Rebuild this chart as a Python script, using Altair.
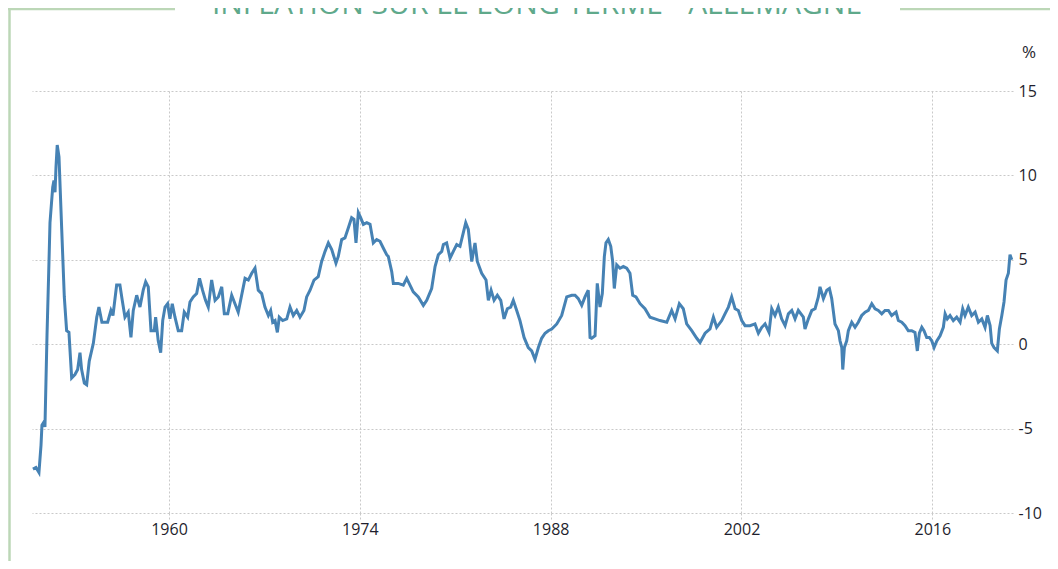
import altair as alt
import pandas as pd

# Decimal years and inflation (%)
years = [
    1950.02, 1950.24, 1950.46, 1950.61, 1950.68, 1950.83, 1950.90, 1950.98, 1951.05, 1951.20,
    1951.27, 1951.47, 1951.56, 1951.64, 1951.71, 1951.80, 1951.93, 1952.13, 1952.32, 1952.49,
    1952.66, 1952.86, 1953.10, 1953.30, 1953.47, 1953.59, 1953.79, 1953.96, 1954.15, 1954.45,
    1954.70, 1954.86, 1955.08, 1955.50, 1955.74, 1955.89, 1956.16, 1956.40, 1956.57, 1956.77,
    1957.01, 1957.21, 1957.38, 1957.63, 1957.87, 1958.11, 1958.29, 1958.48, 1958.68, 1958.92,
    1959.02, 1959.21, 1959.39, 1959.54, 1959.71, 1959.90, 1960.07, 1960.24, 1960.44, 1960.68,
    1960.93, 1961.12, 1961.37, 1961.54, 1961.78, 1962.03, 1962.24, 1962.46, 1962.68, 1962.88,
    1963.13, 1963.38, 1963.62, 1963.87, 1964.06, 1964.31, 1964.60, 1964.84, 1965.08, 1965.33,
    1965.58, 1965.82, 1966.07, 1966.31, 1966.55, 1966.80, 1967.04, 1967.29, 1967.46, 1967.61,
    1967.78, 1967.95, 1968.09, 1968.34, 1968.64, 1968.88, 1969.12, 1969.37, 1969.61, 1969.90,
    1970.10, 1970.35, 1970.64, 1970.95, 1971.20, 1971.45, 1971.69, 1971.94, 1972.25, 1972.42,
    1972.67, 1972.91, 1973.16, 1973.40, 1973.57, 1973.72, 1973.89, 1974.06, 1974.26, 1974.51,
    1974.75, 1974.99, 1975.24, 1975.48, 1975.72, 1975.97, 1976.09, 1976.34, 1976.46, 1976.82,
    1977.19, 1977.44, 1977.68, 1977.92, 1978.29, 1978.66, 1978.91, 1979.27, 1979.52, 1979.76,
    1980.01, 1980.13, 1980.37, 1980.62, 1980.86, 1981.11, 1981.35, 1981.59, 1981.77, 1981.96,
    1982.21, 1982.45, 1982.62, 1982.94, 1983.26, 1983.43, 1983.63, 1983.85, 1984.09, 1984.34,
    1984.58, 1984.82, 1985.07, 1985.26, 1985.51, 1985.75, 1986.05, 1986.36, 1986.61, 1986.85,
    1987.10, 1987.34, 1987.59, 1987.83, 1988.08, 1988.45, 1988.81, 1989.18, 1989.55, 1989.79,
    1990.03, 1990.28, 1990.52, 1990.76, 1990.89, 1991.01, 1991.26, 1991.42, 1991.62, 1991.79,
    1991.94, 1992.06, 1992.23, 1992.41, 1992.55, 1992.67, 1992.85, 1993.09, 1993.33, 1993.58,
    1993.82, 1994.02, 1994.26, 1994.56, 1994.92, 1995.29, 1995.66, 1996.02, 1996.52, 1996.88,
    1997.13, 1997.44, 1997.73, 1997.98, 1998.35, 1998.72, 1998.96, 1999.33, 1999.69, 1999.94,
    2000.18, 2000.55, 2000.79, 2001.04, 2001.28, 2001.53, 2001.77, 2002.02, 2002.26, 2002.63,
    2002.99, 2003.24, 2003.49, 2003.73, 2004.02, 2004.22, 2004.46, 2004.70, 2004.95, 2005.20,
    2005.44, 2005.69, 2005.93, 2006.17, 2006.54, 2006.66, 2006.91, 2007.16, 2007.40, 2007.64,
    2007.76, 2008.01, 2008.26, 2008.45, 2008.62, 2008.86, 2009.11, 2009.23, 2009.36, 2009.43,
    2009.55, 2009.72, 2009.84, 2010.09, 2010.33, 2010.57, 2010.82, 2011.07, 2011.31, 2011.56,
    2011.80, 2012.04, 2012.29, 2012.53, 2012.78, 2013.02, 2013.34, 2013.51, 2013.76, 2014.00,
    2014.24, 2014.49, 2014.73, 2014.90, 2015.05, 2015.23, 2015.39, 2015.59, 2015.78, 2015.96,
    2016.13, 2016.33, 2016.57, 2016.81, 2016.94, 2017.10, 2017.30, 2017.54, 2017.79, 2018.04,
    2018.23, 2018.40, 2018.64, 2018.89, 2019.14, 2019.38, 2019.63, 2019.87, 2020.04, 2020.24,
    2020.36, 2020.53, 2020.77, 2020.92, 2021.10, 2021.26, 2021.41, 2021.58, 2021.70, 2021.83,
]
values = [
    -7.4, -7.3, -7.6, -6.0, -4.8, -4.6, -4.9, -2.0, 0.5, 5.0,
    7.2, 9.3, 9.7, 9.0, 10.5, 11.8, 11.1, 6.8, 2.8, 0.8,
    0.7, -2.0, -1.8, -1.5, -0.5, -1.5, -2.3, -2.4, -1.0, 0.05,
    1.6, 2.2, 1.3, 1.3, 2.0, 1.7, 3.5, 3.5, 2.6, 1.6,
    1.9, 0.4, 2.0, 2.9, 2.2, 3.2, 3.7, 3.4, 0.8, 0.8,
    1.6, 0.2, -0.5, 1.4, 2.2, 2.4, 1.5, 2.4, 1.6, 0.8,
    0.8, 1.9, 1.6, 2.5, 2.8, 3.0, 3.9, 3.2, 2.6, 2.2,
    3.8, 2.6, 2.8, 3.4, 1.8, 1.8, 2.9, 2.4, 1.9, 2.9,
    3.9, 3.8, 4.2, 4.5, 3.2, 3.0, 2.2, 1.7, 2.0, 1.3,
    1.4, 0.7, 1.6, 1.4, 1.5, 2.2, 1.7, 2.0, 1.6, 2.0,
    2.8, 3.2, 3.8, 4.0, 4.9, 5.5, 6.0, 5.6, 4.8, 5.2,
    6.2, 6.3, 6.9, 7.5, 7.4, 6.0, 7.8, 7.5, 7.1, 7.2,
    7.1, 6.0, 6.2, 6.1, 5.7, 5.3, 5.2, 4.3, 3.6, 3.6,
    3.5, 3.9, 3.5, 3.1, 2.8, 2.3, 2.6, 3.3, 4.6, 5.3,
    5.5, 5.9, 6.0, 5.1, 5.5, 5.9, 5.8, 6.6, 7.2, 6.8,
    4.9, 6.0, 4.9, 4.2, 3.8, 2.6, 3.2, 2.6, 2.9, 2.6,
    1.5, 2.1, 2.2, 2.6, 2.0, 1.4, 0.4, -0.2, -0.4, -0.9,
    -0.2, 0.35, 0.65, 0.8, 0.9, 1.2, 1.7, 2.8, 2.9, 2.9,
    2.7, 2.3, 2.8, 3.2, 0.4, 0.35, 0.5, 3.6, 2.2, 3.0,
    5.2, 6.0, 6.2, 5.8, 4.9, 3.3, 4.7, 4.5, 4.6, 4.5,
    4.2, 2.9, 2.8, 2.4, 2.1, 1.6, 1.5, 1.4, 1.3, 2.0,
    1.5, 2.4, 2.1, 1.2, 0.8, 0.35, 0.1, 0.65, 0.9, 1.6,
    1.0, 1.4, 1.8, 2.2, 2.8, 2.1, 2.0, 1.4, 1.1, 1.1,
    1.2, 0.65, 1.0, 1.2, 0.7, 2.1, 1.7, 2.2, 1.5, 1.1,
    1.8, 2.0, 1.5, 2.0, 1.6, 0.9, 1.5, 2.0, 2.1, 2.8,
    3.4, 2.7, 3.2, 3.3, 2.7, 1.2, 0.8, 0.2, -0.2, -1.5,
    -0.2, 0.2, 0.8, 1.3, 1.0, 1.3, 1.7, 1.9, 2.0, 2.4,
    2.1, 2.0, 1.8, 2.0, 2.0, 1.7, 1.9, 1.4, 1.3, 1.1,
    0.8, 0.8, 0.7, -0.4, 0.65, 1.0, 0.8, 0.4, 0.4, 0.2,
    -0.2, 0.2, 0.5, 1.0, 1.8, 1.5, 1.7, 1.4, 1.6, 1.3,
    2.1, 1.7, 2.2, 1.7, 1.9, 1.3, 1.5, 1.0, 1.7, 1.1,
    0.05, -0.2, -0.4, 0.9, 1.7, 2.5, 3.8, 4.2, 5.3, 5.0,
]

x_ticks = [1960, 1974, 1988, 2002, 2016]
y_ticks = [-10, -5, 0, 5, 10, 15]
title_text = "INFLATION SUR LE LONG TERME - ALLEMAGNE"
unit_text = "%"

FONT = "Open Sans"
GRID = "#c9c9c9"
LABEL = "#1f1f2e"
FRAME = "#bcd7b7"

df = pd.DataFrame({"year": years, "value": values})

line = alt.Chart(df).mark_line(color="#4682b4", strokeWidth=3).encode(
    x=alt.X(
        "year:Q",
        scale=alt.Scale(domain=[1949.95, 2021.92], nice=False, zero=False),
        axis=alt.Axis(
            values=x_ticks, labelExpr="'' + datum.value", title=None, grid=True,
            gridDash=[2, 2], gridColor=GRID, gridWidth=1,
            domain=False, ticks=True, tickSize=6, tickDash=[2, 2], tickColor=GRID,
            labelFont=FONT, labelFontSize=16, labelColor=LABEL, labelPadding=2,
        ),
    ),
    y=alt.Y(
        "value:Q",
        scale=alt.Scale(domain=[-10, 15], nice=False, zero=False),
        axis=alt.Axis(
            orient="right", values=y_ticks, labelExpr="'' + datum.value", title=None, grid=True,
            gridDash=[2, 2], gridColor=GRID, gridWidth=1,
            domain=False, ticks=False, tickSize=0,
            labelFont=FONT, labelFontSize=16, labelColor=LABEL, labelPadding=5,
        ),
    ),
)

one = pd.DataFrame({"t": [title_text]})
title = alt.Chart(one).mark_text(
    font=FONT, fontSize=30, color="#5fa98b", align="center", baseline="alphabetic"
).encode(text="t:N", x=alt.value(505), y=alt.value(-77))

unit = alt.Chart(pd.DataFrame({"t": [unit_text]})).mark_text(
    font=FONT, fontSize=17, color=LABEL, align="center", baseline="middle"
).encode(text="t:N", x=alt.value(997), y=alt.value(-38))

frame_left = alt.Chart(one).mark_rule(color=FRAME, strokeWidth=2.5).encode(
    x=alt.value(-24), x2=alt.value(143), y=alt.value(-82)
)
frame_right = alt.Chart(one).mark_rule(color=FRAME, strokeWidth=2.5).encode(
    x=alt.value(868), x2=alt.value(1030), y=alt.value(-82)
)
frame_vert = alt.Chart(one).mark_rule(color=FRAME, strokeWidth=2.5).encode(
    x=alt.value(-22.5), y=alt.value(-83), y2=alt.value(480)
)

chart = alt.layer(line, title, unit, frame_left, frame_right, frame_vert).properties(
    width=981,
    height=422,
    autosize=alt.AutoSizeParams(type="none"),
    padding={"left": 24, "top": 83, "right": 37, "bottom": 48},
    background="white",
).configure_view(stroke=None)

chart.save("out.html", embed_options={"renderer": "svg", "actions": False})
